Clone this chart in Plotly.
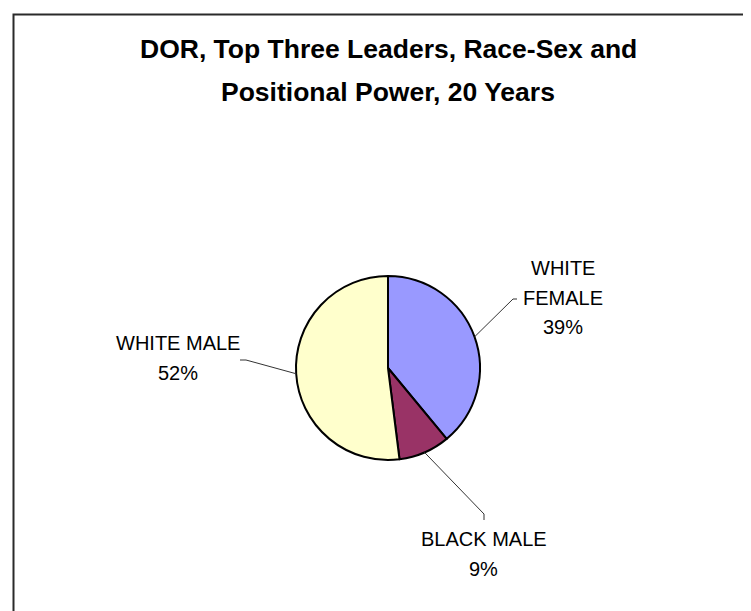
import math
import plotly.graph_objects as go

# ---- data ----
categories = ["WHITE FEMALE", "BLACK MALE", "WHITE MALE"]
label_lines = [["WHITE", "FEMALE"], ["BLACK MALE"], ["WHITE MALE"]]
values = [39, 9, 52]
colors = ["#9999FF", "#993366", "#FFFFCC"]
title_lines = ["DOR, Top Three Leaders, Race-Sex and", "Positional Power, 20 Years"]

# ---- layout constants (pixels) ----
W, H = 751, 611
CX, CY, R = 380, 360, 92
FONT = "Liberation Sans, Arial, sans-serif"
# label text centre (x, y of first line), elbow point and end point of leader line
label_pos = [(555, 260), (476, 531), (170, 335)]
elbows = [((505, 291), (509, 291)), ((476, 506), (476, 512)), ((238, 352), (232, 352))]
LINE_PITCH = 29.5


def px(x):
    return x / W


def py(y):
    return 1 - y / H


fig = go.Figure(go.Pie(
    labels=categories,
    values=values,
    sort=False,
    direction="clockwise",
    rotation=0,
    marker=dict(colors=colors, line=dict(color="#000000", width=2)),
    textinfo="none",
    hoverinfo="label+percent",
    showlegend=False,
    domain=dict(x=[px(CX - R), px(CX + R)], y=[py(CY + R), py(CY - R)]),
))

shapes = [dict(type="rect", xref="paper", yref="paper",
               x0=px(5.5), y0=py(6.5), x1=px(W + 20), y1=py(H + 20),
               line=dict(color="#2a2a2a", width=2), layer="above")]
annotations = []

total = sum(values)
cum = 0
for i, v in enumerate(values):
    mid = 2 * math.pi * (cum + v / 2) / total
    cum += v
    ex = CX + R * math.sin(mid)
    ey = CY - R * math.cos(mid)
    (bx, by), (qx, qy) = elbows[i]
    shapes.append(dict(type="path", xref="paper", yref="paper",
                       path=f"M {px(ex)} {py(ey)} L {px(bx)} {py(by)} L {px(qx)} {py(qy)}",
                       line=dict(color="#333333", width=1)))
    lx, ly = label_pos[i]
    lines = label_lines[i] + [f"{round(v / total * 100)}%"]
    for k, t in enumerate(lines):
        annotations.append(dict(text=t, x=px(lx), y=py(ly + k * LINE_PITCH),
                                xref="paper", yref="paper", showarrow=False,
                                xanchor="center", yanchor="middle",
                                font=dict(family=FONT, size=20, color="#000000")))

for k, t in enumerate(title_lines):
    annotations.append(dict(text=f"<b>{t}</b>", x=px(380), y=py(41 + k * 43),
                            xref="paper", yref="paper", showarrow=False,
                            xanchor="center", yanchor="middle",
                            font=dict(family=FONT, size=26.5, color="#000000")))

fig.update_layout(
    width=W, height=H,
    margin=dict(l=0, r=0, t=0, b=0),
    paper_bgcolor="#FFFFFF",
    plot_bgcolor="#FFFFFF",
    shapes=shapes,
    annotations=annotations,
)

fig.write_html("out.html")
